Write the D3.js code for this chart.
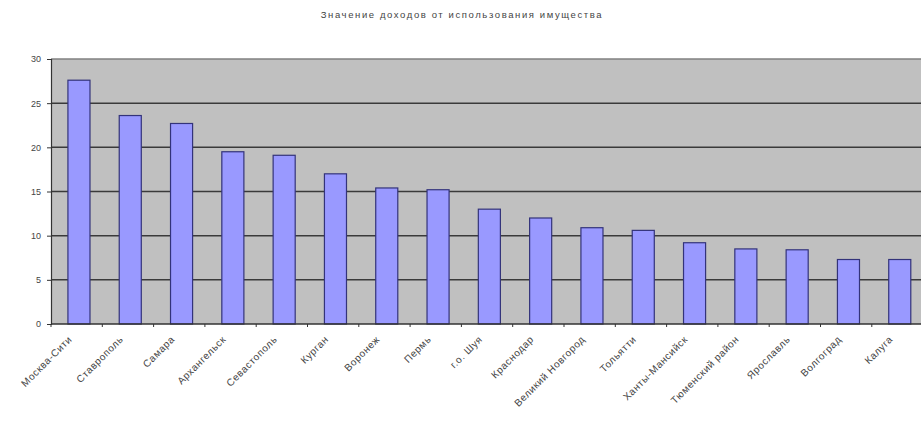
<!DOCTYPE html>
<html><head><meta charset="utf-8">
<script src="https://cdn.jsdelivr.net/npm/d3@7"></script>
<style>body{margin:0;background:#fff}svg{display:block}</style>
</head><body><svg id="c" width="921" height="426"></svg>
<script>
const title = "Значение доходов от использования имущества";
const categories = ["Москва-Сити","Ставрополь","Самара","Архангельск","Севастополь","Курган","Воронеж","Пермь","г.о. Шуя","Краснодар","Великий Новгород","Тольятти","Ханты-Мансийск","Тюменский район","Ярославль","Волгоград","Калуга"];
const values = [27.6,23.6,22.7,19.5,19.1,17.0,15.4,15.2,13.0,12.0,10.9,10.6,9.2,8.5,8.4,7.3,7.3];
const yTicks = [0,5,10,15,20,25,30];

const svg = d3.select("#c");
const FONT = "Arial, Liberation Sans, sans-serif";
const L = 51, T = 59, B = 324, R = 51 + 17 * 51.3;
const x = d3.scaleBand().domain(categories).range([L, R]).padding(0);
const y = d3.scaleLinear().domain([0,30]).range([B, T]);
const step = x.step();

svg.append("text").attr("x", 462).attr("y", 18).attr("text-anchor","middle")
  .attr("font-family", FONT).attr("font-size", 9.5).attr("letter-spacing", 1.6)
  .attr("fill","#444").text(title);

svg.append("rect").attr("x", L).attr("y", T).attr("width", 921 - L).attr("height", B - T).attr("fill", "#c0c0c0");

svg.append("g").selectAll("line").data(yTicks.filter(d => d > 0)).join("line")
  .attr("x1", L).attr("x2", 921).attr("y1", d => y(d)).attr("y2", d => y(d))
  .attr("stroke", d => d === 30 ? "#808080" : "#3a3a3a").attr("stroke-width", 1.5);

svg.append("g").selectAll("rect").data(values).join("rect")
  .attr("x", (d,i) => x(categories[i]) + step * 0.33).attr("width", step * 0.43)
  .attr("y", d => y(d)).attr("height", d => B - y(d))
  .attr("fill", "#9999ff").attr("stroke", "#33337a").attr("stroke-width", 1.2);

const yAxis = svg.append("g").attr("transform", `translate(${L},0)`)
  .call(d3.axisLeft(y).tickValues(yTicks).tickSize(4).tickPadding(6));
yAxis.select(".domain").attr("stroke", "#333").attr("stroke-width", 1.2);
yAxis.selectAll("line").attr("stroke", "#333");
yAxis.selectAll("text").attr("font-family", FONT).attr("font-size", 9).attr("fill","#444");

const xg = svg.append("g").attr("transform", `translate(0,${B})`);
xg.append("line").attr("x1", L).attr("x2", 921).attr("stroke", "#333").attr("stroke-width", 1.5);
xg.selectAll("line.t").data(d3.range(categories.length + 1)).join("line").attr("class","t")
  .attr("x1", i => L + i * step).attr("x2", i => L + i * step).attr("y1", 0).attr("y2", 3).attr("stroke","#333");
xg.selectAll("text").data(categories).join("text")
  .attr("transform", d => `translate(${x(d) + step * 0.5 - 4},${16}) rotate(-45)`)
  .attr("text-anchor", "end").attr("font-family", FONT)
  .attr("font-size", 10).attr("letter-spacing", 0.6).attr("fill", "#444").text(d => d);
</script></body></html>
